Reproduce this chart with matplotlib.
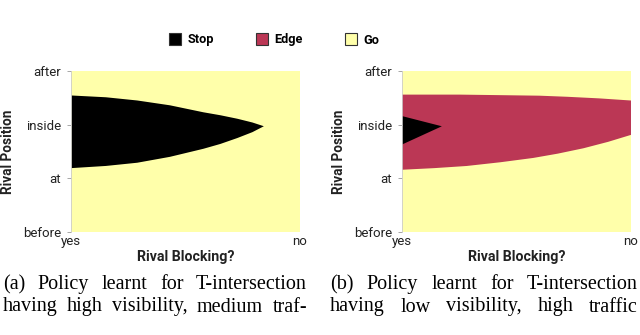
import matplotlib
matplotlib.use("Agg")
import matplotlib.pyplot as plt
from matplotlib.lines import Line2D

# ---- data (x: 0=yes .. 1=no, y: 0=before .. 3=after)
pos_labels = ["before", "at", "inside", "after"]
block_labels = ["yes", "no"]

# (a) stop region
a_x = [0.0, 0.15, 0.287, 0.43, 0.576, 0.65, 0.724, 0.79, 0.84]
a_stop_top = [2.553, 2.52, 2.46, 2.37, 2.24, 2.185, 2.12, 2.05, 1.98]
a_stop_bot = [1.20, 1.24, 1.30, 1.41, 1.56, 1.65, 1.76, 1.87, 1.98]

# (b) edge band + small stop wedge
b_x_top = [0.0, 0.25, 0.428, 0.6, 0.72, 0.86, 1.0]
b_edge_top = [2.56, 2.56, 2.55, 2.54, 2.52, 2.49, 2.45]
b_x_bot = [0.0, 0.14, 0.282, 0.43, 0.573, 0.68, 0.792, 0.9, 1.0]
b_edge_bot = [1.16, 1.19, 1.23, 1.30, 1.38, 1.46, 1.56, 1.68, 1.81]
b_stop_x = [0.0, 0.174, 0.0]
b_stop_y = [2.16, 1.97, 1.63]

captions = {
    "a": ["(a) Policy learnt for T-intersection",
          "having high visibility, medium traf-"],
    "b": ["(b) Policy learnt for T-intersection",
          "having low visibility, high traffic"],
}

C_STOP, C_EDGE, C_GO = "#000000", "#bb3755", "#ffffaa"
TXT = "#222222"
FS = 9.5

plt.rcParams["font.family"] = ["Roboto", "DejaVu Sans"]

W, H = 640, 335
fig = plt.figure(figsize=(W / 100, H / 100), dpi=100)


def fx(px):
    return px / W


def fy(py):
    return 1 - py / H


def style(ax):
    ax.set_facecolor(C_GO)
    ax.set_xlim(0, 1)
    ax.set_ylim(0, 3)
    ax.set_yticks(range(4))
    ax.set_yticklabels(pos_labels)
    ax.set_xticks([0, 1])
    ax.set_xticklabels(block_labels)
    for s in ["top", "right", "bottom"]:
        ax.spines[s].set_visible(False)
    ax.spines["left"].set_color("#cccccc")
    ax.spines["left"].set_linewidth(0.6)
    ax.tick_params(axis="y", length=3, width=0.6, color="#999999", pad=4,
                   labelsize=FS, labelcolor=TXT)
    ax.tick_params(axis="x", length=0, pad=2, labelsize=FS, labelcolor=TXT)
    ax.set_xlabel("Rival Blocking?", fontsize=10.2, fontweight="bold", color=TXT, labelpad=1.5)
    ax.set_ylabel("Rival Position", fontsize=9.8, fontweight="bold", color=TXT, labelpad=6)


axA = fig.add_axes([fx(71), fy(232), fx(229), 161 / H])
axA.fill_between(a_x, a_stop_bot, a_stop_top, color=C_STOP, lw=0)
style(axA)

axB = fig.add_axes([fx(402), fy(232), fx(229), 161 / H])
axB.fill(b_x_top + b_x_bot[::-1], b_edge_top + b_edge_bot[::-1], color=C_EDGE, lw=0)
axB.fill(b_stop_x, b_stop_y, color=C_STOP, lw=0)
style(axB)

handles = [Line2D([], [], ls="none", marker="s", markersize=8, markerfacecolor=c,
                  markeredgecolor="#333333", markeredgewidth=0.8)
           for c in (C_STOP, C_EDGE, C_GO)]
fig.legend(handles, ["Stop", "Edge", "Go"], ncol=3, loc="center",
           bbox_to_anchor=(fx(274), fy(40)), frameon=False, handletextpad=0.45,
           columnspacing=3.3, handlelength=1.0,
           prop={"family": "Roboto", "weight": "bold", "size": 9.2})


def justify(words_line, x0, x1, ybase):
    r = fig.canvas.get_renderer()
    words = words_line.split()
    ts = [fig.text(0, fy(ybase), w, family="Liberation Serif", fontsize=14.5,
                   va="baseline", ha="left", color="black") for w in words]
    widths = [t.get_window_extent(r).width for t in ts]
    gap = (x1 - x0 - sum(widths)) / max(len(words) - 1, 1)
    x = x0
    for t, w in zip(ts, widths):
        t.set_x(fx(x))
        x += w + gap


fig.canvas.draw()
for i, line in enumerate(captions["a"]):
    justify(line, 3, 307, 289 + i * 22.5)
for i, line in enumerate(captions["b"]):
    justify(line, 330, 638, 289 + i * 22.5)

fig.savefig("out.png", dpi=100)
